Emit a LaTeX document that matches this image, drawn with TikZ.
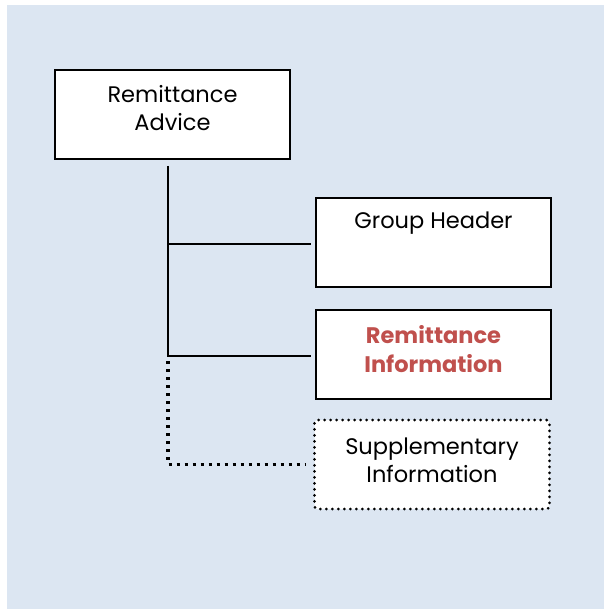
\documentclass[tikz,border=0pt]{standalone}
\usepackage{fontspec}
\setmainfont{Poppins}
\definecolor{bgblue}{HTML}{DCE6F2}
\definecolor{accred}{HTML}{C0504D}
\tikzset{
  box/.style={draw=black, line width=2pt, fill=white, minimum width=235pt, minimum height=89pt, inner sep=0pt},
  dotbox/.style={box, draw=black, line width=3pt, line cap=round, dash pattern=on 0pt off 6pt, rounded corners=3pt},
  txt/.style={align=center, font=\fontsize{22.5}{28}\selectfont, inner sep=0pt},
  redtxt/.style={txt, text=accred, font=\fontsize{22.5}{28.5}\selectfont\bfseries},
  conn/.style={draw=black, line width=1.6pt},
  dotconn/.style={draw=black, line width=3.5pt, dash pattern=on 3pt off 5pt}
}
\begin{document}
\begin{tikzpicture}[x=1pt,y=-1pt]
\useasboundingbox (0,0) rectangle (604,609);
\fill[bgblue] (7,5) rectangle (604,609);
\node[box] (ra) at (172.5,114.5) {};
\node[txt] (ra-t) at ([yshift=6pt]ra.center) {Remittance\\Advice};
\node[box] (gh) at (433.5,242.5) {};
\node[txt] (gh-t) at ([yshift=19pt]gh.center) {Group Header};
\node[box] (ri) at (433.5,354) {};
\node[redtxt] (ri-t) at ([yshift=5pt]ri.center) {Remittance\\Information};
\node[dotbox] (si) at (432,464.5) {};
\node[txt] (si-t) at ([yshift=4pt]si.center) {Supplementary\\Information};
\coordinate (t) at (168,166);
\coordinate (b) at (168,361);
\draw[conn] (t) |- ([xshift=-4pt,yshift=-2pt]ri.west);
\draw[conn] ([yshift=-1.5pt]t |- gh.west) -- ([xshift=-4pt,yshift=-1.5pt]gh.west);
\draw[dotconn] (b) |- ([xshift=-7pt]si.west);
\end{tikzpicture}
\end{document}
